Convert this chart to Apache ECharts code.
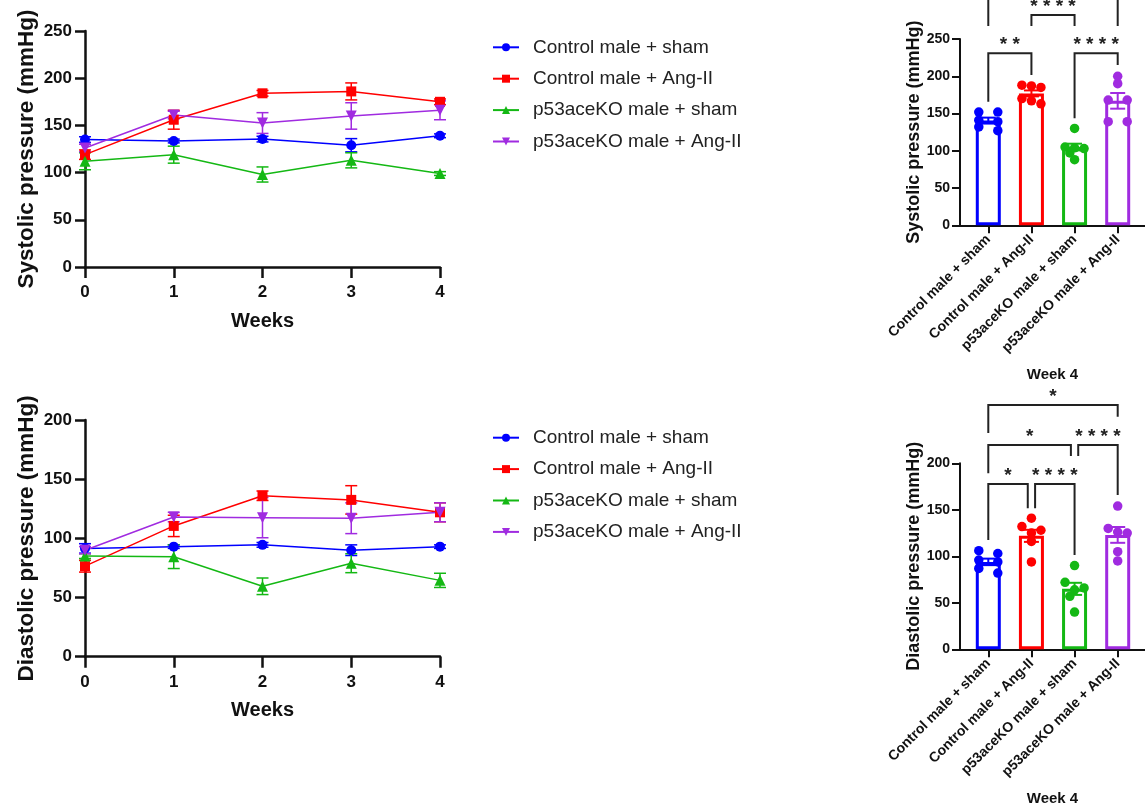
<!DOCTYPE html>
<html><head><meta charset="utf-8">
<script src="https://cdn.jsdelivr.net/npm/echarts@6/dist/echarts.min.js"></script>
<style>html,body{margin:0;padding:0;background:#fff}#c{width:1145px;height:809px}</style>
</head><body><div id="c"></div>
<script>
// ---------------- DATA ----------------
const weeks = [0, 1, 2, 3, 4];
const groups = ['Control male + sham', 'Control male + Ang-II', 'p53aceKO male + sham', 'p53aceKO male + Ang-II'];
const groupIdx = [0, 1, 2, 3];

// Systolic time course (mean, SEM) per group
const sysMean = [
  [135, 133.5, 135.5, 129, 139],
  [119, 156, 184, 186, 175],
  [112, 119, 98, 113, 99],
  [126, 161, 152.5, 160, 166]
];
const sysSem = [
  [3, 2, 3, 7, 2],
  [5, 10, 3, 9, 3],
  [9, 9, 8, 8, 2],
  [4, 4, 11, 14, 10]
];
// Diastolic time course
const diaMean = [
  [91.5, 93, 94.5, 90, 93],
  [76.5, 110.5, 136, 132.5, 122],
  [85, 84.5, 59.5, 79, 64.5],
  [90, 118, 117.5, 117, 122]
];
const diaSem = [
  [4, 1.5, 2, 4.5, 1.5],
  [5, 9, 4, 12, 8],
  [2, 10, 7, 8, 6],
  [3, 4, 17, 13, 8]
];

// Week 4 individual animals
const sysWeek4 = [
  [152, 152, 141, 139, 132, 127],
  [188, 187, 185, 170, 167, 163],
  [130, 105, 104, 103, 97, 88],
  [200, 190, 168, 168, 139, 139]
];
const sysWeek4Mean = [140.5, 177, 105, 167];
const sysWeek4Sem = [4, 4, 4.5, 10.5];
const diaWeek4 = [
  [106, 103, 96, 94, 87, 82],
  [141, 132, 128, 125, 116, 94],
  [90, 72, 66, 64, 57, 40],
  [154, 130, 126, 125, 105, 95]
];
const diaWeek4Mean = [94, 122, 65, 123];
const diaWeek4Sem = [3.5, 6.5, 6.5, 8.5];

// Significance brackets: [fromGroup, toGroup, bracketTop, fromEnd, toEnd] in mmHg
const sysBrackets = [[0, 3, 318, 267.5, 267.5], [1, 2, 282.3, 267.5, 267.5], [0, 1, 230.9, 165.9, 201.7], [2, 3, 230.9, 143.6, 215.2]];
const sysBracketLabels = ['****', '****', '**', '****'];
const diaBrackets = [[0, 3, 262.7, 232.6, 250], [0, 2, 219.7, 189.2, 207.8], [2, 3, 219.7, 207.8, 165.9], [0, 1, 177.7, 117.5, 151.6], [1, 2, 177.7, 151.6, 101.4]];
const diaBracketLabels = ['*', '*', '****', '*', '****'];

// ---------------- STYLE ----------------
const colors = ['#0000FF', '#FF0000', '#14B814', '#A02BE0'];
const symbols = ['circle', 'rect', 'triangle', 'triangle'];
const symRot = [0, 0, 0, 180];
const FONT = '"Liberation Sans", Arial, Helvetica, sans-serif';
const INK = '#111';

const chart = echarts.init(document.getElementById('c'), null, { renderer: 'canvas' });

function lineYAxis(grid, max, name) {
  return {
    type: 'value', gridIndex: grid, min: 0, max: max, interval: 50,
    name: name, nameLocation: 'middle', nameGap: 47,
    nameTextStyle: { fontFamily: FONT, fontWeight: 'bold', fontSize: 22.5, color: INK },
    axisLine: { show: true, onZero: false, lineStyle: { color: INK, width: 2.5 } },
    axisTick: { show: true, length: 10, lineStyle: { color: INK, width: 2.5 } },
    axisLabel: { fontFamily: FONT, fontWeight: 'bold', fontSize: 17, color: INK, margin: 13 },
    splitLine: { show: false }
  };
}
function lineXAxis(grid) {
  return {
    type: 'value', gridIndex: grid, min: 0, max: 4, interval: 1,
    name: 'Weeks', nameLocation: 'middle', nameGap: 44,
    nameTextStyle: { fontFamily: FONT, fontWeight: 'bold', fontSize: 20, color: INK },
    axisLine: { show: true, onZero: false, lineStyle: { color: INK, width: 2.5 } },
    axisTick: { show: true, length: 11, lineStyle: { color: INK, width: 2.5 } },
    axisLabel: { fontFamily: FONT, fontWeight: 'bold', fontSize: 17, color: INK, margin: 17 },
    splitLine: { show: false }
  };
}
// group positions on a numeric axis: groups at 0..3, axis extends past them like the original
function barXAxis(grid) {
  return {
    type: 'value', gridIndex: grid, min: -0.656, max: 3.633,
    name: 'Week 4', nameLocation: 'middle', nameGap: 142,
    nameTextStyle: { fontFamily: FONT, fontWeight: 'bold', fontSize: 15, color: INK },
    axisLine: { show: true, onZero: false, lineStyle: { color: INK, width: 2 } },
    axisTick: { show: true, customValues: groupIdx, length: 8, lineStyle: { color: INK, width: 2 } },
    axisLabel: {
      customValues: groupIdx, formatter: v => groups[Math.round(v)] || '',
      rotate: 45, fontFamily: FONT, fontWeight: 'bold', fontSize: 14, color: INK, margin: 12
    },
    splitLine: { show: false }
  };
}
function barYAxis(grid, max, name) {
  return {
    type: 'value', gridIndex: grid, min: 0, max: max, interval: 50,
    name: name, nameLocation: 'middle', nameGap: 36,
    nameTextStyle: { fontFamily: FONT, fontWeight: 'bold', fontSize: 18, color: INK },
    axisLine: { show: true, onZero: false, lineStyle: { color: INK, width: 2 } },
    axisTick: { show: true, length: 8, lineStyle: { color: INK, width: 2 } },
    axisLabel: { fontFamily: FONT, fontWeight: 'bold', fontSize: 14, color: INK, margin: 10 },
    splitLine: { show: false }
  };
}

function errRender(color, capHalf, lw) {
  return function (params, api) {
    const x = api.value(0), m = api.value(1), s = api.value(2);
    const hi = api.coord([x, m + s]), lo = api.coord([x, m - s]);
    const st = { stroke: color, lineWidth: lw };
    return {
      type: 'group', children: [
        { type: 'line', shape: { x1: hi[0], y1: hi[1], x2: lo[0], y2: lo[1] }, style: st },
        { type: 'line', shape: { x1: hi[0] - capHalf, y1: hi[1], x2: hi[0] + capHalf, y2: hi[1] }, style: st },
        { type: 'line', shape: { x1: lo[0] - capHalf, y1: lo[1], x2: lo[0] + capHalf, y2: lo[1] }, style: st }
      ]
    };
  };
}

// scatter "swarm": dots of near-equal value share a row, others shift sideways to limit overlap
function dotsRender(n) {
  return function (params, api) {
    const gi = api.value(0);
    const cx = api.coord([gi, 0])[0];
    const d = 9.5, minDist = d * 0.72, rowTol = d * 0.6;
    const vals = [];
    for (let k = 1; k <= n; k++) vals.push(api.value(k));
    vals.sort((a, b) => b - a);
    const ys = vals.map(v => api.coord([gi, v])[1]);
    const rows = [];
    ys.forEach(y => {
      const last = rows[rows.length - 1];
      if (last && y - last[0] < rowTol) last.push(y); else rows.push([y]);
    });
    const pts = [];
    rows.forEach(row => {
      if (row.length === 1) {
        const y = row[0];
        const cands = [0, -0.5, 0.5, -1, 1, -1.5, 1.5, -2, 2];
        for (const c of cands) {
          const x = cx + c * d;
          if (pts.every(p => Math.hypot(p[0] - x, p[1] - y) >= minDist)) { pts.push([x, y]); break; }
        }
      } else {
        const slots = row.length === 2 ? [-1, 1] : row.map((_, k) => k - (row.length - 1) / 2);
        row.forEach((y, k) => pts.push([cx + slots[k] * d, y]));
      }
    });
    return {
      type: 'group',
      children: pts.map(p => ({ type: 'circle', shape: { cx: p[0], cy: p[1], r: d / 2 }, style: { fill: colors[gi] } }))
    };
  };
}

function bracketRender(brackets, labels) {
  return function (params, api) {
    const b = brackets[params.dataIndex];
    const band = api.size([1, 0])[0];
    const nud = 0.085 * band;
    let x1 = api.coord([b[0], b[2]])[0], x2 = api.coord([b[1], b[2]])[0];
    if (brackets.some(o => o !== b && o[2] === b[2] && o[1] === b[0])) x1 += nud;
    if (brackets.some(o => o !== b && o[2] === b[2] && o[0] === b[1])) x2 -= nud;
    const yt = api.coord([b[0], b[2]])[1], y1 = api.coord([b[0], b[3]])[1], y2 = api.coord([b[1], b[4]])[1];
    return {
      type: 'group', children: [
        { type: 'polyline', shape: { points: [[x1, y1], [x1, yt], [x2, yt], [x2, y2]] }, style: { stroke: '#222', lineWidth: 2, fill: 'none' } },
        { type: 'text', style: { text: labels[params.dataIndex].split('').join(' '), x: (x1 + x2) / 2, y: yt - 8, align: 'center', verticalAlign: 'middle', font: 'bold 19px ' + FONT, fill: '#222' } }
      ]
    };
  };
}

const series = [];
function addLineGroup(gridIdx, means, sems) {
  groups.forEach((g, gi) => {
    series.push({
      type: 'custom', name: g + ' err', xAxisIndex: gridIdx, yAxisIndex: gridIdx, clip: false, z: 2,
      renderItem: errRender(colors[gi], 6, 1.5),
      encode: { x: 0, y: 1 },
      data: weeks.map((w, i) => [w, means[gi][i], sems[gi][i]]),
      silent: true
    });
    series.push({
      type: 'line', name: g, xAxisIndex: gridIdx, yAxisIndex: gridIdx, clip: false, z: 3,
      symbol: symbols[gi], symbolRotate: symRot[gi], symbolSize: gi === 2 || gi === 3 ? 11 : 10,
      lineStyle: { color: colors[gi], width: 1.5 },
      itemStyle: { color: colors[gi] },
      data: weeks.map((w, i) => [w, means[gi][i]])
    });
  });
}
addLineGroup(0, sysMean, sysSem);
addLineGroup(1, diaMean, diaSem);

function addBarGroup(gridIdx, dots, means, sems, brackets, labels) {
  series.push({
    type: 'bar', name: 'bar' + gridIdx, xAxisIndex: gridIdx, yAxisIndex: gridIdx, barWidth: 25, z: 2,
    data: means.map((m, gi) => ({ value: [gi, m], itemStyle: { color: '#fff', borderColor: colors[gi], borderWidth: 3 } }))
  });
  series.push({
    type: 'custom', name: 'dots' + gridIdx, xAxisIndex: gridIdx, yAxisIndex: gridIdx, clip: false, z: 3,
    renderItem: dotsRender(dots[0].length),
    encode: { x: 0, y: dots[0].map((_, k) => k + 1) },
    data: dots.map((arr, gi) => [gi].concat(arr))
  });
  groups.forEach((g, gi) => {
    series.push({
      type: 'custom', name: 'berr' + gridIdx + '_' + gi, xAxisIndex: gridIdx, yAxisIndex: gridIdx, clip: false, z: 4,
      renderItem: errRender(colors[gi], 7.5, 2),
      encode: { x: 0, y: 1 },
      data: [[gi, means[gi], sems[gi]]]
    });
  });
  series.push({
    type: 'custom', name: 'brk' + gridIdx, xAxisIndex: gridIdx, yAxisIndex: gridIdx, clip: false, z: 5,
    renderItem: bracketRender(brackets, labels),
    encode: { x: [0, 1], y: [2, 3, 4] },
    data: brackets
  });
}
addBarGroup(2, sysWeek4, sysWeek4Mean, sysWeek4Sem, sysBrackets, sysBracketLabels);
addBarGroup(3, diaWeek4, diaWeek4Mean, diaWeek4Sem, diaBrackets, diaBracketLabels);

const legendBase = {
  data: groups, orient: 'vertical', left: 487, itemWidth: 26, itemHeight: 10, itemGap: 11.4,
  selectedMode: false,
  textStyle: { fontFamily: FONT, fontSize: 19, color: '#222', lineHeight: 20, padding: [0, 0, 0, 9] }
};

chart.setOption({
  animation: false,
  backgroundColor: '#fff',
  grid: [
    { left: 85, top: 31, width: 355, height: 236, outerBoundsMode: 'none' },
    { left: 85, top: 420, width: 355, height: 236.7, outerBoundsMode: 'none' },
    { left: 960, top: 39, width: 185, height: 186.3, outerBoundsMode: 'none' },
    { left: 960, top: 463.3, width: 185, height: 186, outerBoundsMode: 'none' }
  ],
  legend: [
    Object.assign({}, legendBase, { top: 32.3 }),
    Object.assign({}, legendBase, { top: 422.7 })
  ],
  xAxis: [lineXAxis(0), lineXAxis(1), barXAxis(2), barXAxis(3)],
  yAxis: [
    lineYAxis(0, 250, 'Systolic pressure (mmHg)'),
    lineYAxis(1, 200, 'Diastolic pressure (mmHg)'),
    barYAxis(2, 250, 'Systolic pressure (mmHg)'),
    barYAxis(3, 200, 'Diastolic pressure (mmHg)')
  ],
  series: series
});
</script>
</body></html>
